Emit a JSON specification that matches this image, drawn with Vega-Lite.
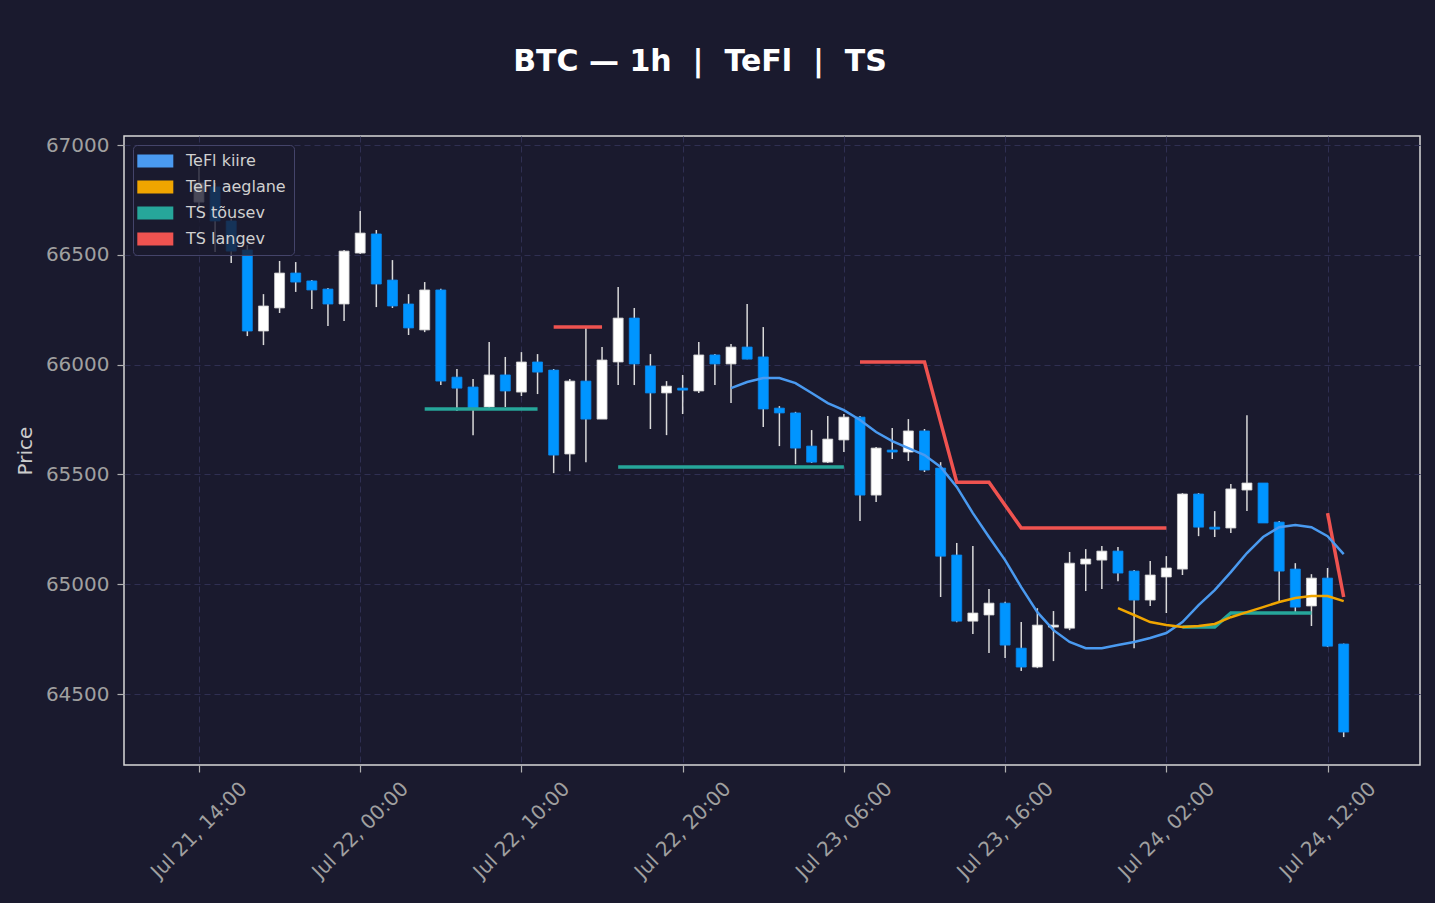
{
  "$schema": "https://vega.github.io/schema/vega-lite/v6.json",
  "width": 1296,
  "height": 629,
  "autosize": "none",
  "padding": {"left": 124, "top": 136, "right": 15, "bottom": 138},
  "background": "#1a1a2e",
  "title": {"text": "BTC — 1h \u00a0|\u00a0 TeFl \u00a0|\u00a0 TS", "font": "DejaVu Sans", "fontSize": 30, "fontWeight": "bold", "color": "#ffffff", "anchor": "middle", "dx": -72, "offset": 34, "baseline": "alphabetic"},
  "config": {
    "view": {"stroke": "#d8d8d8", "strokeWidth": 1.5},
    "axis": {"domain": false, "grid": true, "gridColor": "#2f2f52", "gridDash": [6, 4], "gridWidth": 1, "tickColor": "#b0b0b0", "tickSize": 7, "tickWidth": 1.2, "labelColor": "#a0a0a0", "labelFont": "DejaVu Sans", "labelFontSize": 20, "titleColor": "#cccccc", "titleFont": "DejaVu Sans", "titleFontSize": 20, "titleFontWeight": "normal"},
    "legend": {"fillColor": "rgba(26,26,46,0.8)", "strokeColor": "#44446a", "cornerRadius": 4, "padding": 8, "rowPadding": 10, "labelOffset": 29, "labelFontSize": 16, "labelColor": "#d0d0d0", "labelFont": "DejaVu Sans", "symbolSize": 169, "symbolType": "M-1.8,-1H3.74V1H-1.8Z", "symbolOpacity": 1, "symbolStrokeWidth": 0}
  },
  "datasets": {
    "candles": [
      {"t": "2024-07-21T14:00:00", "o": 66740, "h": 66900, "l": 66720, "c": 66827},
      {"t": "2024-07-21T15:00:00", "o": 66809, "h": 66827, "l": 66513, "c": 66654},
      {"t": "2024-07-21T16:00:00", "o": 66654, "h": 66665, "l": 66463, "c": 66517},
      {"t": "2024-07-21T17:00:00", "o": 66522, "h": 66545, "l": 66130, "c": 66153},
      {"t": "2024-07-21T18:00:00", "o": 66153, "h": 66321, "l": 66089, "c": 66267},
      {"t": "2024-07-21T19:00:00", "o": 66258, "h": 66472, "l": 66235, "c": 66417},
      {"t": "2024-07-21T20:00:00", "o": 66417, "h": 66467, "l": 66331, "c": 66376},
      {"t": "2024-07-21T21:00:00", "o": 66381, "h": 66385, "l": 66253, "c": 66340},
      {"t": "2024-07-21T22:00:00", "o": 66344, "h": 66349, "l": 66176, "c": 66276},
      {"t": "2024-07-21T23:00:00", "o": 66276, "h": 66522, "l": 66199, "c": 66517},
      {"t": "2024-07-22T00:00:00", "o": 66508, "h": 66699, "l": 66504, "c": 66599},
      {"t": "2024-07-22T01:00:00", "o": 66595, "h": 66613, "l": 66262, "c": 66367},
      {"t": "2024-07-22T02:00:00", "o": 66385, "h": 66476, "l": 66258, "c": 66267},
      {"t": "2024-07-22T03:00:00", "o": 66276, "h": 66321, "l": 66135, "c": 66167},
      {"t": "2024-07-22T04:00:00", "o": 66158, "h": 66376, "l": 66148, "c": 66340},
      {"t": "2024-07-22T05:00:00", "o": 66340, "h": 66345, "l": 65907, "c": 65925},
      {"t": "2024-07-22T06:00:00", "o": 65943, "h": 65980, "l": 65789, "c": 65893},
      {"t": "2024-07-22T07:00:00", "o": 65898, "h": 65934, "l": 65679, "c": 65802},
      {"t": "2024-07-22T08:00:00", "o": 65807, "h": 66103, "l": 65795, "c": 65953},
      {"t": "2024-07-22T09:00:00", "o": 65953, "h": 66035, "l": 65807, "c": 65880},
      {"t": "2024-07-22T10:00:00", "o": 65875, "h": 66057, "l": 65857, "c": 66012},
      {"t": "2024-07-22T11:00:00", "o": 66012, "h": 66048, "l": 65866, "c": 65966},
      {"t": "2024-07-22T12:00:00", "o": 65975, "h": 65980, "l": 65506, "c": 65588},
      {"t": "2024-07-22T13:00:00", "o": 65593, "h": 65934, "l": 65515, "c": 65925},
      {"t": "2024-07-22T14:00:00", "o": 65925, "h": 66167, "l": 65556, "c": 65752},
      {"t": "2024-07-22T15:00:00", "o": 65752, "h": 66080, "l": 65752, "c": 66021},
      {"t": "2024-07-22T16:00:00", "o": 66012, "h": 66353, "l": 65907, "c": 66212},
      {"t": "2024-07-22T17:00:00", "o": 66212, "h": 66258, "l": 65907, "c": 66003},
      {"t": "2024-07-22T18:00:00", "o": 65994, "h": 66048, "l": 65707, "c": 65871},
      {"t": "2024-07-22T19:00:00", "o": 65871, "h": 65925, "l": 65679, "c": 65902},
      {"t": "2024-07-22T20:00:00", "o": 65893, "h": 65953, "l": 65775, "c": 65884},
      {"t": "2024-07-22T21:00:00", "o": 65880, "h": 66103, "l": 65871, "c": 66044},
      {"t": "2024-07-22T22:00:00", "o": 66044, "h": 66048, "l": 65907, "c": 66003},
      {"t": "2024-07-22T23:00:00", "o": 66003, "h": 66094, "l": 65825, "c": 66080},
      {"t": "2024-07-23T00:00:00", "o": 66080, "h": 66276, "l": 66025, "c": 66025},
      {"t": "2024-07-23T01:00:00", "o": 66035, "h": 66171, "l": 65716, "c": 65798},
      {"t": "2024-07-23T02:00:00", "o": 65802, "h": 65811, "l": 65629, "c": 65780},
      {"t": "2024-07-23T03:00:00", "o": 65780, "h": 65785, "l": 65547, "c": 65620},
      {"t": "2024-07-23T04:00:00", "o": 65629, "h": 65702, "l": 65552, "c": 65556},
      {"t": "2024-07-23T05:00:00", "o": 65556, "h": 65766, "l": 65552, "c": 65661},
      {"t": "2024-07-23T06:00:00", "o": 65657, "h": 65775, "l": 65602, "c": 65761},
      {"t": "2024-07-23T07:00:00", "o": 65761, "h": 65766, "l": 65288, "c": 65406},
      {"t": "2024-07-23T08:00:00", "o": 65406, "h": 65625, "l": 65374, "c": 65620},
      {"t": "2024-07-23T09:00:00", "o": 65611, "h": 65711, "l": 65570, "c": 65602},
      {"t": "2024-07-23T10:00:00", "o": 65602, "h": 65752, "l": 65561, "c": 65698},
      {"t": "2024-07-23T11:00:00", "o": 65698, "h": 65707, "l": 65511, "c": 65520},
      {"t": "2024-07-23T12:00:00", "o": 65529, "h": 65556, "l": 64942, "c": 65128},
      {"t": "2024-07-23T13:00:00", "o": 65133, "h": 65188, "l": 64827, "c": 64832},
      {"t": "2024-07-23T14:00:00", "o": 64832, "h": 65174, "l": 64773, "c": 64869},
      {"t": "2024-07-23T15:00:00", "o": 64860, "h": 64978, "l": 64687, "c": 64914},
      {"t": "2024-07-23T16:00:00", "o": 64914, "h": 64920, "l": 64664, "c": 64723},
      {"t": "2024-07-23T17:00:00", "o": 64709, "h": 64828, "l": 64605, "c": 64623},
      {"t": "2024-07-23T18:00:00", "o": 64623, "h": 64891, "l": 64618, "c": 64814},
      {"t": "2024-07-23T19:00:00", "o": 64805, "h": 64878, "l": 64650, "c": 64814},
      {"t": "2024-07-23T20:00:00", "o": 64800, "h": 65147, "l": 64791, "c": 65096},
      {"t": "2024-07-23T21:00:00", "o": 65092, "h": 65160, "l": 64969, "c": 65115},
      {"t": "2024-07-23T22:00:00", "o": 65110, "h": 65174, "l": 64978, "c": 65151},
      {"t": "2024-07-23T23:00:00", "o": 65151, "h": 65170, "l": 65014, "c": 65051},
      {"t": "2024-07-24T00:00:00", "o": 65060, "h": 65065, "l": 64709, "c": 64928},
      {"t": "2024-07-24T01:00:00", "o": 64928, "h": 65106, "l": 64901, "c": 65042},
      {"t": "2024-07-24T02:00:00", "o": 65033, "h": 65128, "l": 64869, "c": 65074},
      {"t": "2024-07-24T03:00:00", "o": 65069, "h": 65415, "l": 65042, "c": 65411},
      {"t": "2024-07-24T04:00:00", "o": 65411, "h": 65415, "l": 65219, "c": 65260},
      {"t": "2024-07-24T05:00:00", "o": 65260, "h": 65333, "l": 65215, "c": 65251},
      {"t": "2024-07-24T06:00:00", "o": 65256, "h": 65456, "l": 65233, "c": 65434},
      {"t": "2024-07-24T07:00:00", "o": 65429, "h": 65770, "l": 65333, "c": 65461},
      {"t": "2024-07-24T08:00:00", "o": 65461, "h": 65461, "l": 65279, "c": 65279},
      {"t": "2024-07-24T09:00:00", "o": 65283, "h": 65288, "l": 64923, "c": 65060},
      {"t": "2024-07-24T10:00:00", "o": 65069, "h": 65096, "l": 64873, "c": 64896},
      {"t": "2024-07-24T11:00:00", "o": 64901, "h": 65046, "l": 64810, "c": 65028},
      {"t": "2024-07-24T12:00:00", "o": 65028, "h": 65074, "l": 64714, "c": 64718},
      {"t": "2024-07-24T13:00:00", "o": 64728, "h": 64730, "l": 64304, "c": 64327}
    ],
    "lines": [
      {"s": "TeFl kiire", "g": 1, "t": "2024-07-22T23:00:00", "v": 65893},
      {"s": "TeFl kiire", "g": 1, "t": "2024-07-23T00:00:00", "v": 65921},
      {"s": "TeFl kiire", "g": 1, "t": "2024-07-23T01:00:00", "v": 65939},
      {"s": "TeFl kiire", "g": 1, "t": "2024-07-23T02:00:00", "v": 65939},
      {"s": "TeFl kiire", "g": 1, "t": "2024-07-23T03:00:00", "v": 65916},
      {"s": "TeFl kiire", "g": 1, "t": "2024-07-23T04:00:00", "v": 65871},
      {"s": "TeFl kiire", "g": 1, "t": "2024-07-23T05:00:00", "v": 65825},
      {"s": "TeFl kiire", "g": 1, "t": "2024-07-23T06:00:00", "v": 65793},
      {"s": "TeFl kiire", "g": 1, "t": "2024-07-23T07:00:00", "v": 65748},
      {"s": "TeFl kiire", "g": 1, "t": "2024-07-23T08:00:00", "v": 65693},
      {"s": "TeFl kiire", "g": 1, "t": "2024-07-23T09:00:00", "v": 65652},
      {"s": "TeFl kiire", "g": 1, "t": "2024-07-23T10:00:00", "v": 65620},
      {"s": "TeFl kiire", "g": 1, "t": "2024-07-23T11:00:00", "v": 65588},
      {"s": "TeFl kiire", "g": 1, "t": "2024-07-23T12:00:00", "v": 65534},
      {"s": "TeFl kiire", "g": 1, "t": "2024-07-23T13:00:00", "v": 65443},
      {"s": "TeFl kiire", "g": 1, "t": "2024-07-23T14:00:00", "v": 65324},
      {"s": "TeFl kiire", "g": 1, "t": "2024-07-23T15:00:00", "v": 65215},
      {"s": "TeFl kiire", "g": 1, "t": "2024-07-23T16:00:00", "v": 65110},
      {"s": "TeFl kiire", "g": 1, "t": "2024-07-23T17:00:00", "v": 64987},
      {"s": "TeFl kiire", "g": 1, "t": "2024-07-23T18:00:00", "v": 64873},
      {"s": "TeFl kiire", "g": 1, "t": "2024-07-23T19:00:00", "v": 64791},
      {"s": "TeFl kiire", "g": 1, "t": "2024-07-23T20:00:00", "v": 64737},
      {"s": "TeFl kiire", "g": 1, "t": "2024-07-23T21:00:00", "v": 64709},
      {"s": "TeFl kiire", "g": 1, "t": "2024-07-23T22:00:00", "v": 64709},
      {"s": "TeFl kiire", "g": 1, "t": "2024-07-23T23:00:00", "v": 64723},
      {"s": "TeFl kiire", "g": 1, "t": "2024-07-24T00:00:00", "v": 64737},
      {"s": "TeFl kiire", "g": 1, "t": "2024-07-24T01:00:00", "v": 64755},
      {"s": "TeFl kiire", "g": 1, "t": "2024-07-24T02:00:00", "v": 64778},
      {"s": "TeFl kiire", "g": 1, "t": "2024-07-24T03:00:00", "v": 64828},
      {"s": "TeFl kiire", "g": 1, "t": "2024-07-24T04:00:00", "v": 64905},
      {"s": "TeFl kiire", "g": 1, "t": "2024-07-24T05:00:00", "v": 64973},
      {"s": "TeFl kiire", "g": 1, "t": "2024-07-24T06:00:00", "v": 65055},
      {"s": "TeFl kiire", "g": 1, "t": "2024-07-24T07:00:00", "v": 65142},
      {"s": "TeFl kiire", "g": 1, "t": "2024-07-24T08:00:00", "v": 65215},
      {"s": "TeFl kiire", "g": 1, "t": "2024-07-24T09:00:00", "v": 65260},
      {"s": "TeFl kiire", "g": 1, "t": "2024-07-24T10:00:00", "v": 65270},
      {"s": "TeFl kiire", "g": 1, "t": "2024-07-24T11:00:00", "v": 65260},
      {"s": "TeFl kiire", "g": 1, "t": "2024-07-24T12:00:00", "v": 65219},
      {"s": "TeFl kiire", "g": 1, "t": "2024-07-24T13:00:00", "v": 65137},
      {"s": "TeFl aeglane", "g": 1, "t": "2024-07-23T23:00:00", "v": 64891},
      {"s": "TeFl aeglane", "g": 1, "t": "2024-07-24T00:00:00", "v": 64860},
      {"s": "TeFl aeglane", "g": 1, "t": "2024-07-24T01:00:00", "v": 64828},
      {"s": "TeFl aeglane", "g": 1, "t": "2024-07-24T02:00:00", "v": 64814},
      {"s": "TeFl aeglane", "g": 1, "t": "2024-07-24T03:00:00", "v": 64805},
      {"s": "TeFl aeglane", "g": 1, "t": "2024-07-24T04:00:00", "v": 64810},
      {"s": "TeFl aeglane", "g": 1, "t": "2024-07-24T05:00:00", "v": 64819},
      {"s": "TeFl aeglane", "g": 1, "t": "2024-07-24T06:00:00", "v": 64850},
      {"s": "TeFl aeglane", "g": 1, "t": "2024-07-24T07:00:00", "v": 64873},
      {"s": "TeFl aeglane", "g": 1, "t": "2024-07-24T08:00:00", "v": 64896},
      {"s": "TeFl aeglane", "g": 1, "t": "2024-07-24T09:00:00", "v": 64919},
      {"s": "TeFl aeglane", "g": 1, "t": "2024-07-24T10:00:00", "v": 64937},
      {"s": "TeFl aeglane", "g": 1, "t": "2024-07-24T11:00:00", "v": 64946},
      {"s": "TeFl aeglane", "g": 1, "t": "2024-07-24T12:00:00", "v": 64946},
      {"s": "TeFl aeglane", "g": 1, "t": "2024-07-24T13:00:00", "v": 64923},
      {"s": "TS tõusev", "g": 1, "t": "2024-07-22T04:00:00", "v": 65798},
      {"s": "TS tõusev", "g": 1, "t": "2024-07-22T11:00:00", "v": 65798},
      {"s": "TS tõusev", "g": 2, "t": "2024-07-22T16:00:00", "v": 65534},
      {"s": "TS tõusev", "g": 2, "t": "2024-07-23T06:00:00", "v": 65534},
      {"s": "TS tõusev", "g": 3, "t": "2024-07-24T03:00:00", "v": 64805},
      {"s": "TS tõusev", "g": 3, "t": "2024-07-24T05:00:00", "v": 64805},
      {"s": "TS tõusev", "g": 3, "t": "2024-07-24T06:00:00", "v": 64869},
      {"s": "TS tõusev", "g": 3, "t": "2024-07-24T11:00:00", "v": 64869},
      {"s": "TS langev", "g": 1, "t": "2024-07-22T12:00:00", "v": 66171},
      {"s": "TS langev", "g": 1, "t": "2024-07-22T15:00:00", "v": 66171},
      {"s": "TS langev", "g": 2, "t": "2024-07-23T07:00:00", "v": 66012},
      {"s": "TS langev", "g": 2, "t": "2024-07-23T11:00:00", "v": 66012},
      {"s": "TS langev", "g": 2, "t": "2024-07-23T12:00:00", "v": 65738},
      {"s": "TS langev", "g": 2, "t": "2024-07-23T13:00:00", "v": 65465},
      {"s": "TS langev", "g": 2, "t": "2024-07-23T15:00:00", "v": 65465},
      {"s": "TS langev", "g": 2, "t": "2024-07-23T16:00:00", "v": 65360},
      {"s": "TS langev", "g": 2, "t": "2024-07-23T17:00:00", "v": 65256},
      {"s": "TS langev", "g": 2, "t": "2024-07-24T02:00:00", "v": 65256},
      {"s": "TS langev", "g": 3, "t": "2024-07-24T12:00:00", "v": 65324},
      {"s": "TS langev", "g": 3, "t": "2024-07-24T13:00:00", "v": 64942}
    ]
  },
  "layer": [
    {
      "data": {"name": "candles"},
      "mark": {"type": "rule", "color": "#d9d9d9", "strokeWidth": 1.5},
      "encoding": {
        "x": {"field": "t", "type": "temporal",
          "scale": {"nice": false, "padding": 0, "domain": [{"year": 2024, "month": 7, "date": 21, "hours": 9, "minutes": 21}, {"year": 2024, "month": 7, "date": 24, "hours": 17, "minutes": 44}]},
          "axis": {"title": null, "format": "%b %d, %H:%M", "labelAngle": -45, "labelAlign": "center", "labelBaseline": "middle", "labelPadding": 58,
            "values": [
              {"year": 2024, "month": 7, "date": 21, "hours": 14},
              {"year": 2024, "month": 7, "date": 22, "hours": 0},
              {"year": 2024, "month": 7, "date": 22, "hours": 10},
              {"year": 2024, "month": 7, "date": 22, "hours": 20},
              {"year": 2024, "month": 7, "date": 23, "hours": 6},
              {"year": 2024, "month": 7, "date": 23, "hours": 16},
              {"year": 2024, "month": 7, "date": 24, "hours": 2},
              {"year": 2024, "month": 7, "date": 24, "hours": 12}
            ]}},
        "y": {"field": "l", "type": "quantitative",
          "scale": {"domain": [64177, 67041], "nice": false, "zero": false, "padding": 0},
          "axis": {"title": "Price", "values": [64500, 65000, 65500, 66000, 66500, 67000], "format": "d", "labelPadding": 8,
            "titleX": -99, "titleY": 314.5, "titleAngle": 270, "titleAlign": "center", "titleBaseline": "middle"}},
        "y2": {"field": "h"}
      }
    },
    {
      "data": {"name": "candles"},
      "mark": {"type": "bar", "width": 10, "strokeWidth": 0.8},
      "encoding": {
        "x": {"field": "t", "type": "temporal"},
        "y": {"field": "o", "type": "quantitative"},
        "y2": {"field": "c"},
        "fill": {"condition": {"test": "datum.c >= datum.o", "value": "#ffffff"}, "value": "#0095ff"},
        "stroke": {"condition": {"test": "datum.c >= datum.o", "value": "#cfcfcf"}, "value": "#0a88ee"}
      }
    },
    {
      "data": {"name": "lines"},
      "mark": {"type": "line", "strokeWidth": 3.5},
      "transform": [{"filter": "datum.s === 'TS tõusev' || datum.s === 'TS langev'"}],
      "encoding": {
        "x": {"field": "t", "type": "temporal"},
        "y": {"field": "v", "type": "quantitative"},
        "detail": {"field": "g", "type": "nominal"},
        "color": {"field": "s", "type": "nominal",
          "scale": {"domain": ["TeFl kiire", "TeFl aeglane", "TS tõusev", "TS langev"], "range": ["#4a9af0", "#f0a500", "#26a69a", "#ef5350"]},
          "legend": {"orient": "none", "legendX": 9, "legendY": 9, "title": null,
            "encode": {"symbols": {"update": {"fill": {"scale": "color", "field": "value"}, "strokeWidth": {"value": 0}}}}}}
      }
    },
    {
      "data": {"name": "lines"},
      "mark": {"type": "line", "strokeWidth": 2.5},
      "transform": [{"filter": "datum.s === 'TeFl kiire' || datum.s === 'TeFl aeglane'"}],
      "encoding": {
        "x": {"field": "t", "type": "temporal"},
        "y": {"field": "v", "type": "quantitative"},
        "detail": {"field": "g", "type": "nominal"},
        "color": {"field": "s", "type": "nominal"}
      }
    }
  ]
}
